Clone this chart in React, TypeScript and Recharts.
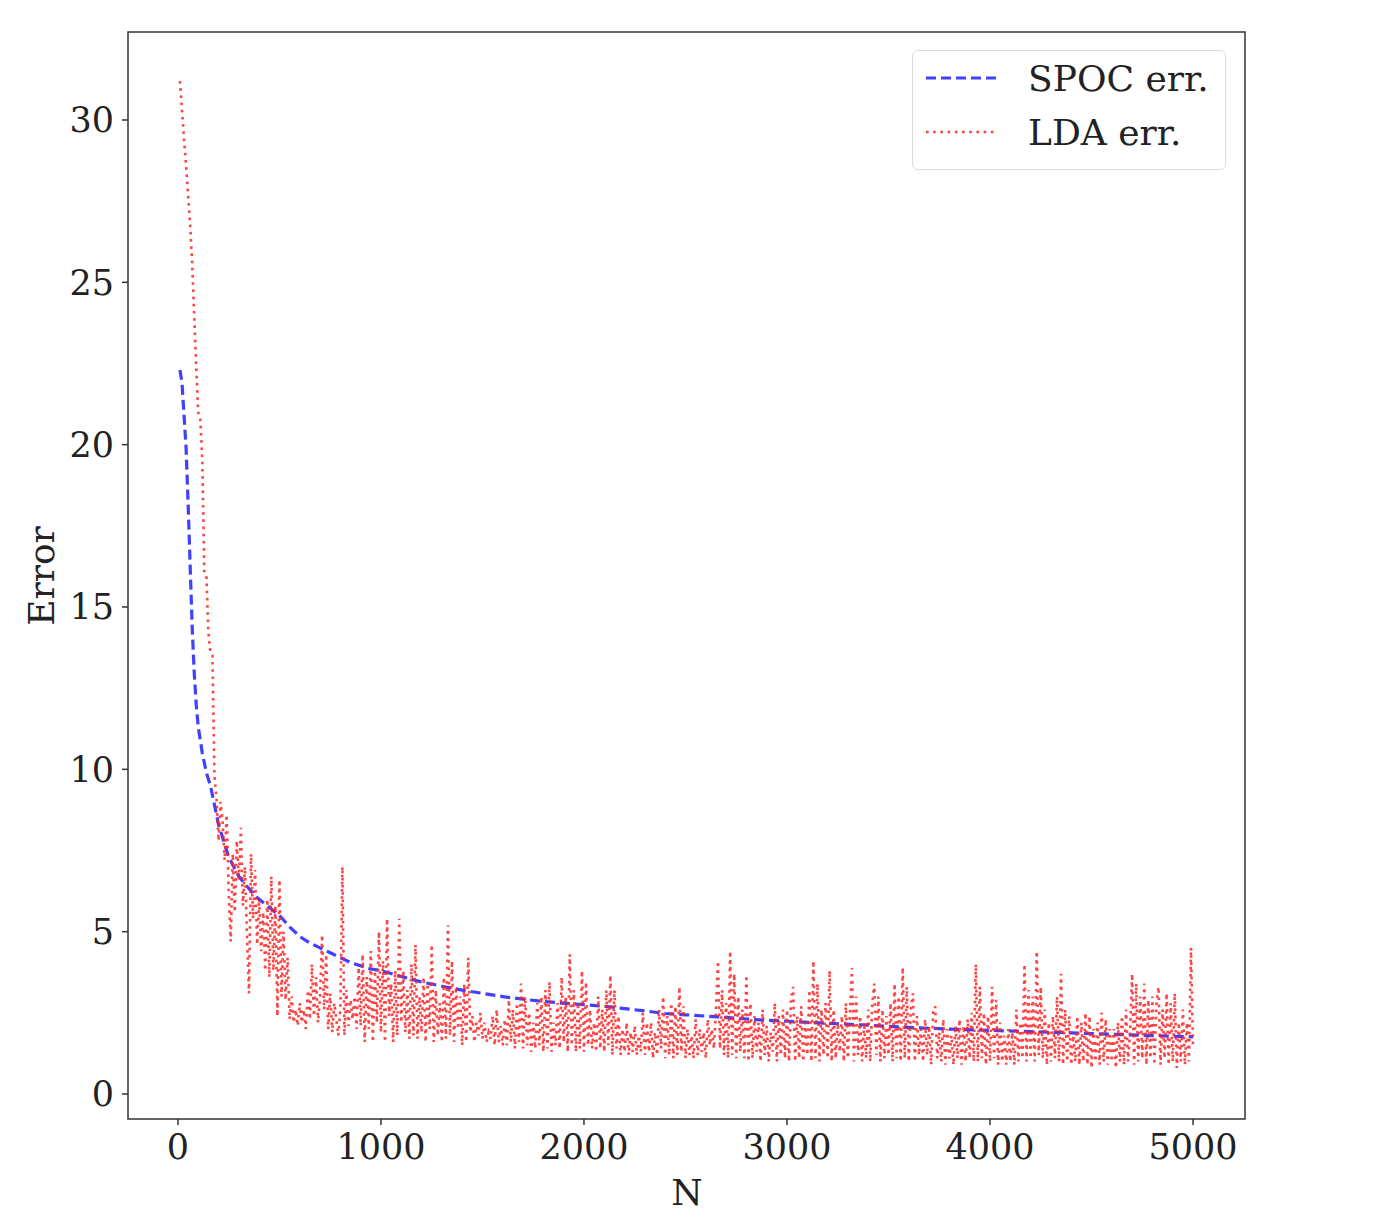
import React from 'react'
import { LineChart, Line, XAxis, YAxis, ReferenceArea } from 'recharts'

// SPOC error: smooth curve, (N, error)
const SPOC_N = [
  10, 20, 30, 40, 50, 60, 70, 80, 90, 100, 120, 140, 160, 180, 200, 225, 250, 275, 300, 340,
  380, 420, 460, 500, 550, 600, 650, 700, 750, 800, 850, 900, 950, 1000, 1100, 1200, 1300, 1400, 1500, 1600,
  1700, 1800, 1900, 2000, 2100, 2200, 2300, 2400, 2500, 2600, 2700, 2800, 2900, 3000, 3200, 3400, 3600, 3800, 4000, 4200,
  4400, 4600, 4800, 5000,
]
const SPOC_ERR = [
  22.3, 21.9, 20.9, 19.9, 18.2, 16.3, 14.4, 13.0, 12.0, 11.3, 10.5, 9.9, 9.5, 8.9, 8.3, 7.8, 7.3, 7.0, 6.7, 6.4,
  6.1, 5.9, 5.7, 5.5, 5.15, 4.85, 4.65, 4.5, 4.35, 4.2, 4.05, 3.95, 3.85, 3.8, 3.62, 3.45, 3.32, 3.2, 3.1, 3.0,
  2.92, 2.85, 2.8, 2.75, 2.7, 2.63, 2.56, 2.48, 2.44, 2.4, 2.36, 2.31, 2.27, 2.24, 2.18, 2.12, 2.05, 2.0, 1.96, 1.92,
  1.88, 1.84, 1.8, 1.76,
]

// LDA error: sampled every 10 N starting at 10, one row = 200 N
const LDA_START = 10
const LDA_STEP = 10
const LDA_ERR = [
  31.2, 30.3, 29.4, 28.6, 27.7, 26.8, 25.6, 24.0, 22.4, 21.0, 20.8, 19.5, 16.1, 16.0, 14.2, 13.6, 13.5, 9.8, 9.1, 7.8,
  9.0, 8.4, 7.2, 8.6, 6.2, 4.7, 7.4, 5.6, 7.8, 6.6, 8.2, 5.8, 7.0, 4.9, 3.1, 7.4, 5.4, 6.9, 4.6, 6.0,
  4.4, 5.6, 3.8, 6.0, 3.6, 6.7, 3.8, 5.8, 2.4, 6.6, 3.0, 5.0, 2.9, 4.2, 2.3, 3.0, 2.2, 2.6, 2.1, 2.8,
  2.2, 2.6, 2.0, 3.2, 2.3, 4.0, 2.4, 3.6, 2.2, 3.0, 4.9, 2.6, 4.3, 2.0, 3.1, 1.9, 2.8, 2.3, 1.8, 2.6,
  7.0, 1.8, 3.2, 2.1, 2.9, 2.3, 3.0, 2.0, 3.9, 2.1, 4.3, 1.6, 3.6, 2.0, 4.4, 1.6, 3.8, 2.2, 5.0, 1.9,
  4.1, 1.6, 5.4, 2.4, 3.4, 1.6, 3.8, 1.8, 5.4, 2.2, 3.8, 1.9, 3.2, 1.7, 4.0, 1.8, 4.6, 1.7, 3.0, 1.9,
  3.6, 1.6, 3.4, 2.0, 4.6, 1.6, 3.2, 1.8, 2.8, 1.6, 3.6, 1.7, 5.2, 1.8, 4.1, 1.6, 3.3, 2.0, 3.0, 1.5,
  3.4, 1.6, 4.2, 1.9, 2.4, 1.6, 2.2, 1.8, 2.5, 1.7, 2.2, 1.6, 1.9, 1.7, 2.4, 1.5, 2.6, 1.6, 2.1, 1.5,
  2.3, 1.5, 2.9, 1.6, 2.6, 1.4, 2.8, 1.6, 3.4, 1.4, 3.0, 1.5, 2.5, 1.3, 2.2, 1.4, 2.8, 1.5, 3.0, 1.3,
  3.2, 1.4, 3.45, 1.3, 2.2, 1.5, 2.8, 1.4, 3.6, 1.6, 3.0, 1.3, 4.3, 1.5, 3.2, 1.3, 2.8, 1.4, 3.8, 1.3,
  3.45, 1.5, 2.6, 1.4, 2.2, 1.3, 3.0, 1.4, 2.6, 1.3, 3.2, 1.5, 3.66, 1.2, 3.2, 1.4, 2.4, 1.2, 2.0, 1.3,
  2.2, 1.2, 1.9, 1.3, 2.1, 1.2, 1.8, 1.3, 2.5, 1.2, 2.2, 1.3, 2.2, 1.1, 1.9, 1.2, 2.6, 1.4, 3.0, 1.1,
  2.4, 1.2, 2.8, 1.1, 2.7, 1.2, 3.3, 1.3, 2.7, 1.1, 2.0, 1.2, 1.8, 1.1, 2.3, 1.2, 2.0, 1.3, 1.9, 1.1,
  2.3, 1.5, 2.0, 1.4, 2.6, 4.1, 1.4, 3.2, 1.2, 2.8, 1.1, 4.4, 1.2, 3.7, 1.1, 3.0, 1.3, 2.6, 1.1, 3.66,
  1.0, 2.8, 1.1, 2.4, 1.3, 2.2, 1.0, 2.6, 1.2, 2.1, 1.0, 1.9, 1.3, 2.8, 1.0, 2.4, 1.2, 2.6, 1.1, 2.6,
  1.0, 2.9, 3.3, 1.0, 2.4, 1.1, 2.7, 1.0, 2.2, 1.2, 3.2, 1.0, 4.1, 1.1, 3.4, 1.0, 2.6, 1.2, 2.8, 1.1,
  3.8, 1.0, 2.6, 1.1, 2.2, 1.3, 2.4, 1.0, 2.8, 1.1, 2.5, 3.88, 1.0, 3.0, 1.2, 2.4, 1.0, 2.2, 1.1, 2.6,
  1.0, 2.8, 3.4, 1.2, 3.0, 1.0, 2.6, 1.1, 2.4, 1.2, 2.8, 1.0, 3.4, 1.1, 3.0, 1.0, 3.9, 1.1, 3.3, 1.0,
  2.6, 3.1, 1.0, 2.4, 1.2, 2.0, 1.0, 2.3, 1.2, 2.1, 0.9, 2.5, 2.7, 1.1, 1.9, 1.0, 2.3, 0.9, 2.0, 1.1,
  1.8, 0.9, 2.1, 1.1, 2.3, 0.9, 2.1, 1.0, 2.3, 1.1, 2.5, 1.0, 4.0, 1.0, 3.3, 1.1, 2.5, 0.9, 2.4, 1.0,
  3.3, 1.1, 2.9, 0.9, 2.2, 1.0, 1.8, 0.9, 2.0, 1.0, 1.9, 0.9, 2.6, 1.0, 2.2, 1.1, 4.0, 1.0, 3.2, 1.1,
  3.0, 1.0, 4.4, 1.2, 3.3, 1.1, 2.6, 0.9, 2.2, 1.0, 2.4, 1.1, 3.0, 1.0, 3.7, 0.9, 2.6, 1.0, 2.4, 0.9,
  1.8, 1.0, 2.4, 0.9, 2.2, 1.0, 2.5, 0.9, 2.4, 0.8, 2.0, 1.0, 2.2, 0.9, 2.5, 1.0, 2.3, 0.9, 2.0, 1.0,
  2.0, 0.8, 2.2, 1.0, 2.4, 0.9, 2.6, 1.0, 1.9, 3.7, 0.9, 3.4, 1.0, 3.0, 1.1, 3.4, 0.9, 2.9, 1.1, 3.0,
  0.9, 2.8, 3.3, 0.9, 2.6, 1.1, 3.1, 0.9, 2.8, 1.0, 3.1, 0.8, 2.2, 1.0, 2.6, 0.9, 2.2, 1.0, 4.5, 1.4,
]

const X_TICKS = [0, 1000, 2000, 3000, 4000, 5000]
const Y_TICKS = [0, 5, 10, 15, 20, 25, 30]
const X_DOMAIN = [-246, 5256]
const Y_DOMAIN = [-0.77, 32.71]

const FONT = '"DejaVu Serif", serif'
const BLUE = '#1f1fff'
const RED = '#ff2222'

const spocData = SPOC_N.map((n, i) => ({ n, err: SPOC_ERR[i] }))
const ldaData = LDA_ERR.map((err, i) => ({ n: LDA_START + i * LDA_STEP, err }))

const tickStyle = { fontSize: 35, fill: '#222', fontFamily: FONT }

function YTitle() {
  return (
    <text x={41} y={576} transform="rotate(-90 41 576)" textAnchor="middle" dominantBaseline="central"
          style={{ fontSize: 36, fill: '#222', fontFamily: FONT }}>
      Error
    </text>
  )
}

function XTitle() {
  return (
    <text x={687} y={1192} textAnchor="middle" dominantBaseline="central"
          style={{ fontSize: 36, fill: '#222', fontFamily: FONT }}>
      N
    </text>
  )
}

function LegendBox() {
  const rows = [
    { label: 'SPOC err.', color: BLUE, dash: '10 5', width: 3.2, opacity: 0.85 },
    { label: 'LDA err.', color: RED, dash: '2.6 4.6', width: 2.6, opacity: 0.85 },
  ]
  return (
    <div style={{
      position: 'absolute', left: 912, top: 50, width: 314, height: 120, boxSizing: 'border-box',
      border: '1px solid #dcdcdc', borderRadius: 6, background: 'rgba(255,255,255,0.85)',
      fontFamily: FONT, fontSize: 36, color: '#222',
    }}>
      {rows.map((r, i) => (
        <div key={r.label} style={{ position: 'absolute', left: 12, top: 5 + i * 54, height: 44, display: 'flex', alignItems: 'center' }}>
          <svg width={74} height={10} style={{ marginRight: 29 }}>
            <line x1={1} y1={5} x2={73} y2={5} stroke={r.color} strokeWidth={r.width}
                  strokeDasharray={r.dash} strokeOpacity={r.opacity} />
          </svg>
          <span>{r.label}</span>
        </div>
      ))}
    </div>
  )
}

export default function App() {
  return (
    <div style={{ position: 'relative', width: 1381, height: 1228, margin: '-8px 0 0 -8px', background: 'white' }}>
      <LineChart width={1381} height={1228} margin={{ top: 32, right: 136, left: 0, bottom: 0 }}>
        <XAxis dataKey="n" type="number" domain={X_DOMAIN} ticks={X_TICKS} allowDataOverflow
               height={109} axisLine={false} tickSize={6} tickMargin={9}
               tickLine={{ stroke: '#333', strokeWidth: 1.5 }} tick={tickStyle} />
        <YAxis type="number" domain={Y_DOMAIN} ticks={Y_TICKS} allowDataOverflow
               width={128} axisLine={false} tickSize={6} tickMargin={8}
               tickLine={{ stroke: '#333', strokeWidth: 1.5 }} tick={tickStyle} />
        <Line data={spocData} dataKey="err" type="linear" stroke={BLUE} strokeOpacity={0.85}
              strokeWidth={3.2} strokeDasharray="10 5" dot={false} isAnimationActive={false} />
        <Line data={ldaData} dataKey="err" type="linear" stroke={RED} strokeOpacity={0.85}
              strokeWidth={2.6} strokeDasharray="2.6 4.6" dot={false} isAnimationActive={false} />
        <ReferenceArea x1={X_DOMAIN[0]} x2={X_DOMAIN[1]} y1={Y_DOMAIN[0]} y2={Y_DOMAIN[1]}
                       fill="none" stroke="#333" strokeWidth={1.5} ifOverflow="visible" />
        <YTitle />
        <XTitle />
      </LineChart>
      <LegendBox />
    </div>
  )
}
